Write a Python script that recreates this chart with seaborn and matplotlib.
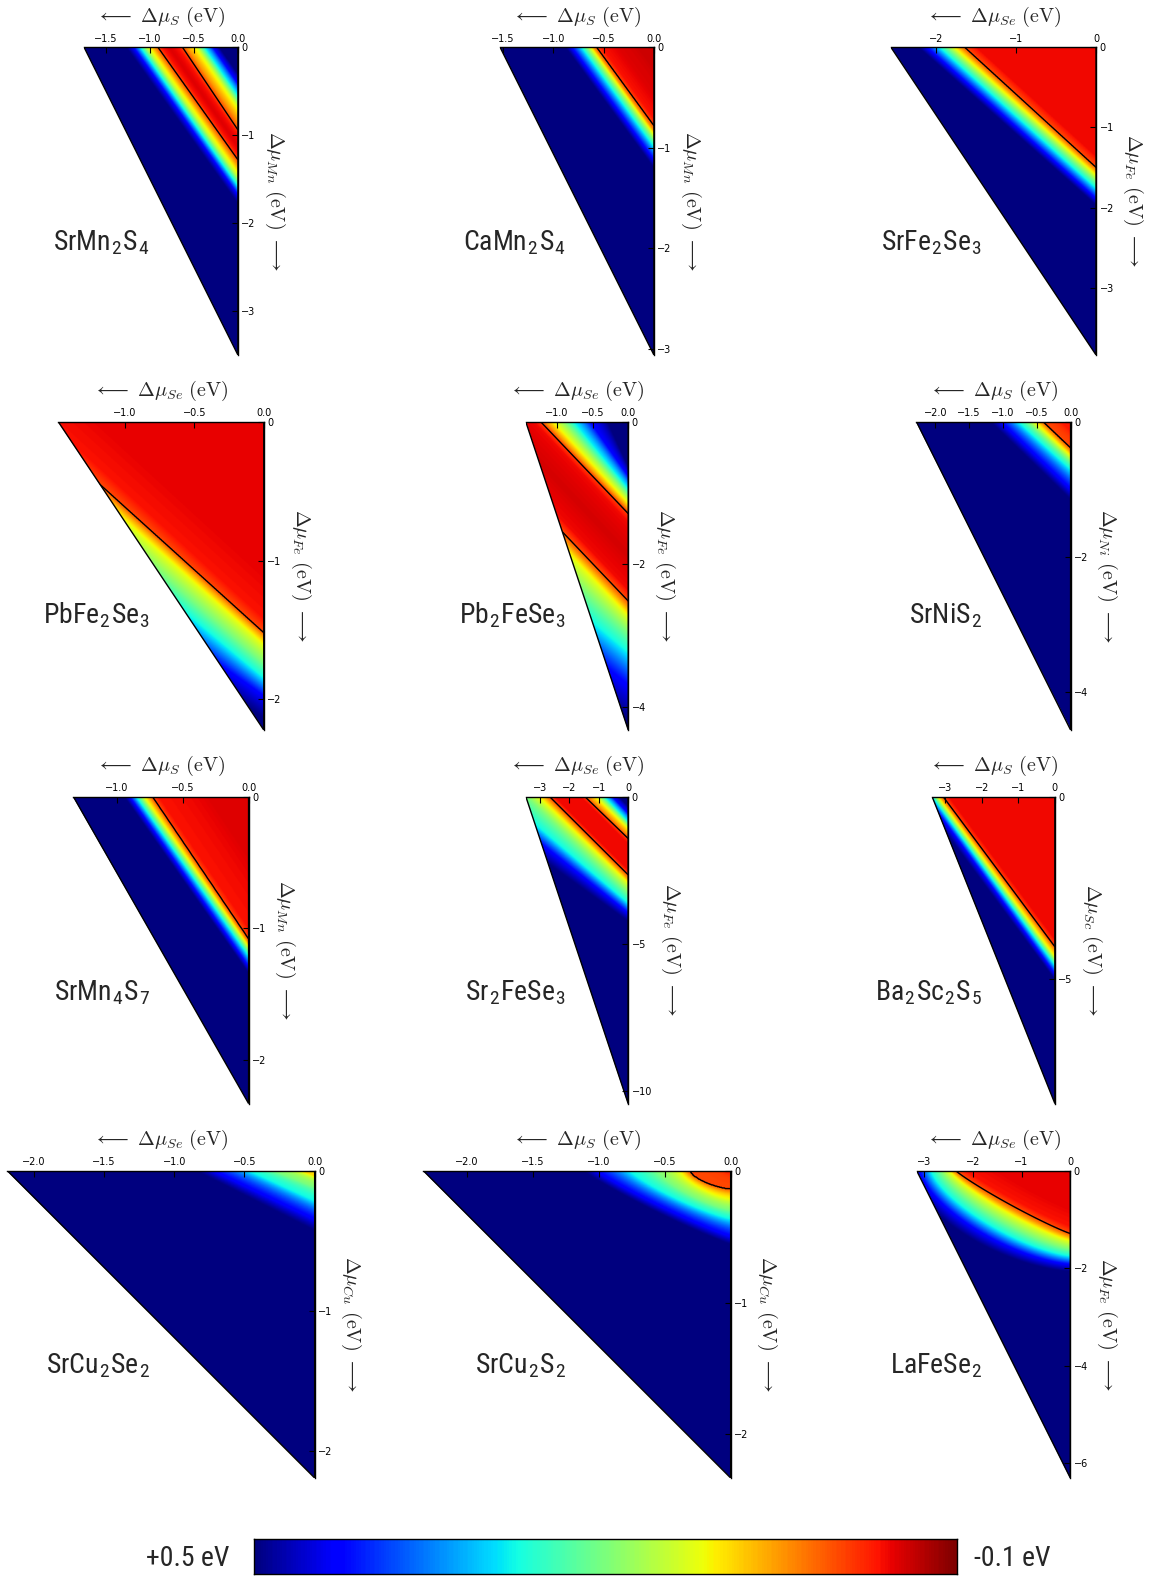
import numpy as np
import matplotlib
matplotlib.use("Agg")
import matplotlib.pyplot as plt
import seaborn as sns
from matplotlib.patches import Polygon
from matplotlib import font_manager

sns.set_style("white")
plt.rcParams["font.family"] = ["DejaVu Sans"]
plt.rcParams["mathtext.fontset"] = "cm"
plt.rcParams["axes.unicode_minus"] = True

_names = {f.name for f in font_manager.fontManager.ttflist}
if "Liberation Sans Narrow" in _names:
    LABEL_FONT, LABEL_SIZE = "Liberation Sans Narrow", 20
elif "Roboto Condensed" in _names:
    LABEL_FONT, LABEL_SIZE = "Roboto Condensed", 20
else:
    LABEL_FONT, LABEL_SIZE = "Liberation Sans", 18

# ---------------- data ----------------
compounds = ["SrMn$_\\mathregular{2}$S$_\\mathregular{4}$", "CaMn$_\\mathregular{2}$S$_\\mathregular{4}$",
             "SrFe$_\\mathregular{2}$Se$_\\mathregular{3}$", "PbFe$_\\mathregular{2}$Se$_\\mathregular{3}$",
             "Pb$_\\mathregular{2}$FeSe$_\\mathregular{3}$", "SrNiS$_\\mathregular{2}$",
             "SrMn$_\\mathregular{4}$S$_\\mathregular{7}$", "Sr$_\\mathregular{2}$FeSe$_\\mathregular{3}$",
             "Ba$_\\mathregular{2}$Sc$_\\mathregular{2}$S$_\\mathregular{5}$", "SrCu$_\\mathregular{2}$Se$_\\mathregular{2}$",
             "SrCu$_\\mathregular{2}$S$_\\mathregular{2}$", "LaFeSe$_\\mathregular{2}$"]
x_element = ["S", "S", "Se", "Se", "Se", "S", "S", "Se", "S", "Se", "S", "Se"]
y_element = ["Mn", "Mn", "Fe", "Fe", "Fe", "Ni", "Mn", "Fe", "Sc", "Cu", "Cu", "Fe"]
x_min = [-1.75, -1.53, -2.56, -1.48, -1.44, -2.28, -1.33, -3.48, -3.36, -2.19, -2.33, -3.15]
y_min = [-3.50, -3.06, -3.84, -2.22, -4.33, -4.56, -2.33, -10.44, -8.40, -2.19, -2.33, -6.30]
x_ticks = [[-1.5, -1.0, -0.5, 0.0], [-1.5, -1.0, -0.5, 0.0], [-2, -1, 0], [-1.0, -0.5, 0.0],
           [-1.0, -0.5, 0.0], [-2.0, -1.5, -1.0, -0.5, 0.0], [-1.0, -0.5, 0.0], [-3, -2, -1, 0],
           [-3, -2, -1, 0], [-2.0, -1.5, -1.0, -0.5, 0.0], [-2.0, -1.5, -1.0, -0.5, 0.0], [-3, -2, -1, 0]]
x_tick_decimals = [1, 1, 0, 1, 1, 1, 1, 0, 0, 1, 1, 0]
y_ticks = [[0, -1, -2, -3], [0, -1, -2, -3], [0, -1, -2, -3], [0, -1, -2], [0, -2, -4], [0, -2, -4],
           [0, -1, -2], [0, -5, -10], [0, -5], [0, -1, -2], [0, -1, -2], [0, -2, -4, -6]]

# iso-lines of the energy field: intercept on the top axis (x), on the right axis (y), value (eV)
srmn2s4_iso_x = [-0.21, -0.28, -0.38, -0.47, -0.58, -0.63, -0.68, -0.78, -0.86, -0.91, -0.96, -1.04, -1.11, -1.19, -1.27]
srmn2s4_iso_y = [-0.30, -0.41, -0.55, -0.68, -0.84, -0.94, -1.00, -1.12, -1.22, -1.28, -1.36, -1.48, -1.58, -1.68, -1.78]
srmn2s4_iso_e = [0.50, 0.43, 0.28, 0.13, 0.05, 0.0, -0.035, -0.05, -0.035, 0.0, 0.06, 0.15, 0.28, 0.43, 0.50]

camn2s4_iso_x = [-0.15, -0.35, -0.52, -0.57, -0.60, -0.63, -0.72, -0.82, -0.88]
camn2s4_iso_y = [-0.20, -0.48, -0.71, -0.78, -0.83, -0.87, -0.99, -1.12, -1.20]
camn2s4_iso_e = [-0.06, -0.05, -0.035, 0.0, 0.05, 0.12, 0.28, 0.43, 0.50]

srfe2se3_iso_x = [-1.50, -1.64, -1.70, -1.78, -1.96, -2.12, -2.22]
srfe2se3_iso_y = [-1.37, -1.50, -1.55, -1.61, -1.77, -1.90, -1.98]
srfe2se3_iso_e = [-0.04, 0.0, 0.05, 0.12, 0.28, 0.43, 0.50]

pbfe2se3_iso_x = [-1.20, -1.55, -1.68, -1.72, -1.80, -1.99, -2.22, -2.83, -3.00]
pbfe2se3_iso_y = [-1.10, -1.42, -1.52, -1.55, -1.61, -1.74, -1.85, -1.98, -2.14]
pbfe2se3_iso_e = [-0.045, -0.035, 0.0, 0.05, 0.12, 0.20, 0.28, 0.43, 0.50]

pb2fese3_iso_x = [-0.30, -0.54, -0.78, -1.06, -1.17, -1.23, -1.33, -1.80, -2.25, -2.40, -2.48, -2.59, -3.14, -3.84, -4.49, -5.00]
pb2fese3_iso_y = [-0.66, -0.78, -0.96, -1.15, -1.24, -1.29, -1.42, -1.90, -2.38, -2.52, -2.62, -2.75, -2.98, -3.26, -3.73, -4.20]
pb2fese3_iso_e = [0.50, 0.43, 0.28, 0.12, 0.05, 0.0, -0.04, -0.055, -0.04, 0.0, 0.05, 0.12, 0.20, 0.28, 0.43, 0.50]

srnis2_iso_x = [-0.15, -0.41, -0.46, -0.55, -0.79, -1.04, -1.19]
srnis2_iso_y = [-0.15, -0.39, -0.45, -0.52, -0.72, -1.01, -1.16]
srnis2_iso_e = [-0.03, 0.0, 0.05, 0.12, 0.28, 0.43, 0.50]

srmn4s7_iso_x = [-0.30, -0.68, -0.73, -0.75, -0.79, -0.85, -0.90, -0.94]
srmn4s7_iso_y = [-0.45, -1.00, -1.08, -1.11, -1.14, -1.21, -1.29, -1.34]
srmn4s7_iso_e = [-0.05, -0.035, 0.0, 0.05, 0.12, 0.28, 0.43, 0.50]

sr2fese3_iso_x = [-0.32, -0.54, -0.80, -1.10, -1.33, -1.47, -1.60, -2.50, -2.67, -2.81, -3.04, -3.45, -4.26, -4.96, -5.86]
sr2fese3_iso_y = [-0.34, -0.57, -0.85, -1.08, -1.30, -1.42, -1.60, -2.50, -2.66, -2.80, -2.95, -3.29, -3.63, -3.97, -4.25]
sr2fese3_iso_e = [0.50, 0.43, 0.28, 0.12, 0.05, 0.0, -0.04, -0.04, 0.0, 0.05, 0.12, 0.20, 0.28, 0.43, 0.50]

ba2sc2s5_iso_x = [-2.90, -3.06, -3.12, -3.20, -3.35, -3.50, -3.70]
ba2sc2s5_iso_y = [-3.90, -4.11, -4.20, -4.38, -4.61, -4.84, -5.00]
ba2sc2s5_iso_e = [-0.04, 0.0, 0.05, 0.12, 0.28, 0.43, 0.50]

srcu2se2_iso_x = [-0.10, -0.30, -0.48, -0.73, -0.85]
srcu2se2_iso_y = [-0.04, -0.12, -0.22, -0.35, -0.43]
srcu2se2_iso_e = [0.09, 0.20, 0.28, 0.43, 0.50]

srcu2s2_iso_x = [-0.05, -0.31, -0.39, -0.56, -0.77, -1.02, -1.12]
srcu2s2_iso_y = [-0.03, -0.14, -0.22, -0.30, -0.37, -0.50, -0.56]
srcu2s2_iso_p = [1.5, 1.5, 1.4, 1.3, 1.2, 1.1, 1.1]
srcu2s2_iso_e = [-0.02, 0.0, 0.12, 0.20, 0.28, 0.43, 0.50]

lafese2_iso_x = [-1.50, -2.15, -2.35, -2.42, -2.50, -2.67, -2.87, -3.10, -3.30]
lafese2_iso_y = [-0.80, -1.15, -1.29, -1.36, -1.45, -1.62, -1.76, -1.93, -2.07]
lafese2_iso_p = [1.1, 1.1, 1.1, 1.15, 1.2, 1.3, 1.4, 1.5, 1.6]
lafese2_iso_e = [-0.045, -0.035, 0.0, 0.05, 0.12, 0.20, 0.28, 0.43, 0.50]

iso_x = [srmn2s4_iso_x, camn2s4_iso_x, srfe2se3_iso_x, pbfe2se3_iso_x, pb2fese3_iso_x, srnis2_iso_x,
         srmn4s7_iso_x, sr2fese3_iso_x, ba2sc2s5_iso_x, srcu2se2_iso_x, srcu2s2_iso_x, lafese2_iso_x]
iso_y = [srmn2s4_iso_y, camn2s4_iso_y, srfe2se3_iso_y, pbfe2se3_iso_y, pb2fese3_iso_y, srnis2_iso_y,
         srmn4s7_iso_y, sr2fese3_iso_y, ba2sc2s5_iso_y, srcu2se2_iso_y, srcu2s2_iso_y, lafese2_iso_y]
iso_e = [srmn2s4_iso_e, camn2s4_iso_e, srfe2se3_iso_e, pbfe2se3_iso_e, pb2fese3_iso_e, srnis2_iso_e,
         srmn4s7_iso_e, sr2fese3_iso_e, ba2sc2s5_iso_e, srcu2se2_iso_e, srcu2s2_iso_e, lafese2_iso_e]
iso_p = [None] * 10 + [srcu2s2_iso_p, lafese2_iso_p]

cbar_left_label = "+0.5 eV"
cbar_right_label = "-0.1 eV"
E_LOW, E_HIGH = -0.1, 0.5

# ---------------- layout (pixels) ----------------
W, H = 1149, 1579
col_center = [161, 577, 993.5]
row_top = [47.3, 421.7, 796.7, 1170.7]
row_bottom = [355.0, 730.0, 1103.5, 1478.0]
name_right = [150, 566, 982]
name_base = [250, 623, 1000, 1373]

fig = plt.figure(figsize=(W / 100, H / 100), dpi=100)


def px_axes(left, top, width, height):
    return fig.add_axes([left / W, 1 - (top + height) / H, width / W, height / H])


def field(X, Y, ax_, ay_, ae_, ap_):
    n = len(ae_)
    if ap_ is None:
        ap_ = [1.0] * n
    G = np.array([np.abs(X / a) ** p + np.abs(Y / b) ** p - 1.0 for a, b, p in zip(ax_, ay_, ap_)])
    E = np.full(X.shape, float(ae_[-1]))
    E[G[0] <= 0] = ae_[0]
    for i in range(n - 1):
        m = (G[i] > 0) & (G[i + 1] <= 0)
        t = G[i][m] / (G[i][m] - G[i + 1][m])
        E[m] = ae_[i] + t * (ae_[i + 1] - ae_[i])
    return E


def fmt(v, d):
    s = f"{v:.{d}f}" if d > 0 else f"{int(round(v))}"
    return s.replace("-", "\u2212")


for k in range(12):
    r, c = divmod(k, 3)
    top, bot = row_top[r], row_bottom[r]
    h = bot - top
    scale = h / abs(y_min[k])
    w = abs(x_min[k]) * scale
    ax = px_axes(col_center[c] - w / 2, top, w, h)
    xmn, ymn = x_min[k], y_min[k]

    xs = np.linspace(xmn, 0, 400)
    ys = np.linspace(ymn, 0, 500)
    X, Y = np.meshgrid(xs, ys)
    E = field(X, Y, iso_x[k], iso_y[k], iso_e[k], iso_p[k])

    tri = Polygon([(xmn, 0), (0, 0), (0, ymn)], closed=True, facecolor="none",
                  edgecolor="black", lw=1.0, zorder=3)
    ax.add_patch(tri)
    im = ax.imshow(E, extent=(xmn, 0, ymn, 0), origin="lower", cmap="jet_r",
                   vmin=E_LOW, vmax=E_HIGH, interpolation="bilinear", aspect="auto")
    im.set_clip_path(tri)
    if np.nanmin(E) < 0 < np.nanmax(E):
        cs = ax.contour(X, Y, E, levels=[0.0], colors="black", linewidths=1.0)
        cs.set_clip_path(tri)

    ax.set_xlim(xmn, 0)
    ax.set_ylim(ymn, 0)
    for side in ["left", "bottom"]:
        ax.spines[side].set_visible(False)
    for side in ["top", "right"]:
        ax.spines[side].set_visible(True)
        ax.spines[side].set_color("black")
        ax.spines[side].set_linewidth(1.0)

    ax.xaxis.tick_top()
    ax.yaxis.tick_right()
    ax.tick_params(axis="both", direction="in", length=4, width=0.8, labelsize=7,
                   colors="black", top=True, right=True, bottom=False, left=False)
    ax.tick_params(axis="x", pad=2.5)
    ax.tick_params(axis="y", pad=2.5)
    ax.set_xticks(x_ticks[k])
    ax.set_xticklabels([fmt(v, x_tick_decimals[k]) for v in x_ticks[k]])
    ax.set_yticks(y_ticks[k])
    ax.set_yticklabels([fmt(v, 0) for v in y_ticks[k]])

    ax.xaxis.set_label_position("top")
    ax.set_xlabel(r"$\longleftarrow\ \Delta\mu_{" + x_element[k] + r"}\ (\mathrm{eV})$",
                  fontsize=14.5, labelpad=8.5)
    ax.yaxis.set_label_position("right")
    ax.set_ylabel(r"$\Delta\mu_{" + y_element[k] + r"}\ (\mathrm{eV})\ \longrightarrow$",
                  fontsize=14.5, rotation=270, va="bottom", labelpad=5)

    fig.text(name_right[c] / W, 1 - name_base[r] / H, compounds[k], ha="right", va="baseline",
             fontsize=LABEL_SIZE, family=LABEL_FONT)

# ---------------- colour bar ----------------
cax = px_axes(254, 1539, 703, 35)
grad = np.linspace(E_HIGH, E_LOW, 400)[None, :]
sns.heatmap(grad, ax=cax, cmap="jet_r", vmin=E_LOW, vmax=E_HIGH, cbar=False,
            xticklabels=False, yticklabels=False)
for s in cax.spines.values():
    s.set_visible(True)
    s.set_color("black")
    s.set_linewidth(1.0)
fig.text(229 / W, 1 - 1558 / H, cbar_left_label, ha="right", va="center", fontsize=LABEL_SIZE, family=LABEL_FONT)
fig.text(974 / W, 1 - 1558 / H, cbar_right_label, ha="left", va="center", fontsize=LABEL_SIZE, family=LABEL_FONT)

fig.savefig("out.png", dpi=100)
